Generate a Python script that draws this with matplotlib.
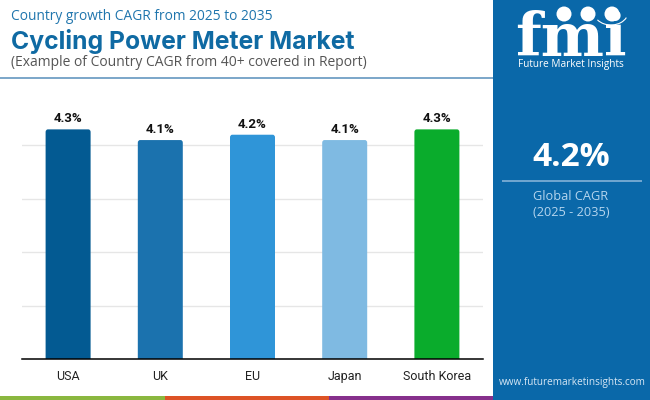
import matplotlib
matplotlib.use('Agg')
import matplotlib.pyplot as plt
from matplotlib.patches import Rectangle, FancyBboxPatch, Circle, Arc

countries = ['USA', 'UK', 'EU', 'Japan', 'South Korea']
cagr = [4.3, 4.1, 4.2, 4.1, 4.3]
bar_colors = ['#035a92', '#1b72ae', '#2f95d8', '#7fbae2', '#0aac2c']
panel = '#0a68a9'
blue = '#0f6aa3'

fig = plt.figure(figsize=(6.5, 4), dpi=100)

# page decorations, in pixel coords
bg = fig.add_axes([0, 0, 1, 1])
bg.set_xlim(0, 650)
bg.set_ylim(400, 0)
bg.axis('off')
bg.add_patch(Rectangle((493, 0), 157, 400, color=panel, lw=0))
bg.add_patch(Rectangle((0, 77), 493, 2, color='#7ea8ca', lw=0))
bg.add_patch(Rectangle((0, 396), 165, 4, color='#8ab73f', lw=0))
bg.add_patch(Rectangle((165, 396), 164, 4, color='#dd5326', lw=0))
bg.add_patch(Rectangle((329, 396), 164, 4, color='#86308c', lw=0))

bg.text(11, 17, 'Country growth CAGR from 2025 to 2035', fontsize=9.9, family='Open Sans',
        color='#1f75ad', va='center')
bg.text(11, 41, 'Cycling Power Meter Market', fontsize=17.8, family='Inter',
        weight='bold', color=blue, va='center')
bg.text(11, 63, '(Example of Country CAGR from 40+ covered in Report)', fontsize=10,
        family='Open Sans', color='#555555', va='center')

# logo
bg.text(571, 55.5, 'fmi', fontsize=43, family='DejaVu Serif', weight='bold', color='white',
        ha='center', va='baseline')
for y in range(26, 56, 5):
    bg.add_patch(Rectangle((510, y), 125, 1.4, color=panel, lw=0))
for cx in [564, 588, 612]:
    bg.add_patch(Circle((cx, 14), 7.5, color='white', lw=0))
bg.add_patch(Arc((611, 12), 34, 26, theta1=20, theta2=150, color='white', lw=0.8))
bg.text(571, 64, 'Future Market Insights', fontsize=7.2, family='Open Sans', color='white',
        ha='center', va='center')

bg.text(571, 158, '4.2%', fontsize=24, family='Open Sans', weight='bold', color='white',
        ha='center', va='center')
bg.add_patch(Rectangle((502, 180), 140, 1.5, color='#6fa5cf', lw=0))
bg.text(571, 197, 'Global CAGR', fontsize=9.2, family='Open Sans', color='#b5d5ee',
        ha='center', va='center')
bg.text(571, 213, '(2025 - 2035)', fontsize=9.2, family='Open Sans', color='#b5d5ee',
        ha='center', va='center')
bg.text(572.5, 383, 'www.futuremarketinsights.com', fontsize=7.2, family='Open Sans',
        color='#d5e6f4', ha='center', va='center')

# chart
ax = fig.add_axes([22 / 650, 41 / 400, 461 / 650, 267 / 400])
ax.patch.set_alpha(0)
bars = ax.bar(countries, cagr, width=0.488, color=bar_colors, zorder=3)
for b in bars:
    # swap for slightly rounded tops
    b.set_visible(False)
    ax.add_patch(FancyBboxPatch((b.get_x(), -0.2), b.get_width(), b.get_height() + 0.2,
                                boxstyle='round,pad=0,rounding_size=0.025',
                                mutation_aspect=2.0, color=b.get_facecolor(), lw=0, zorder=3))
ax.set_xlim(-0.5, 4.5)
ax.set_ylim(0, 5)
ax.set_yticks([1, 2, 3, 4])
ax.set_yticklabels([])
ax.grid(axis='y', color='#e6e6e6', lw=1, zorder=0)
ax.tick_params(length=0, pad=8)
for s in ['top', 'left', 'right']:
    ax.spines[s].set_visible(False)
ax.spines['bottom'].set_linewidth(1.1)
ax.spines['bottom'].set_color('black')
ax.spines['bottom'].set_zorder(5)
for lab in ax.get_xticklabels():
    lab.set_family('Roboto')
    lab.set_fontsize(9)
    lab.set_color('#222222')
for i, v in enumerate(cagr):
    ax.annotate(f'{v}%', (i, v), xytext=(0, 3), textcoords='offset points', ha='center',
                va='bottom', family='Roboto', weight='bold', fontsize=9.5, color='#111111')

fig.savefig('out.png', dpi=100)
